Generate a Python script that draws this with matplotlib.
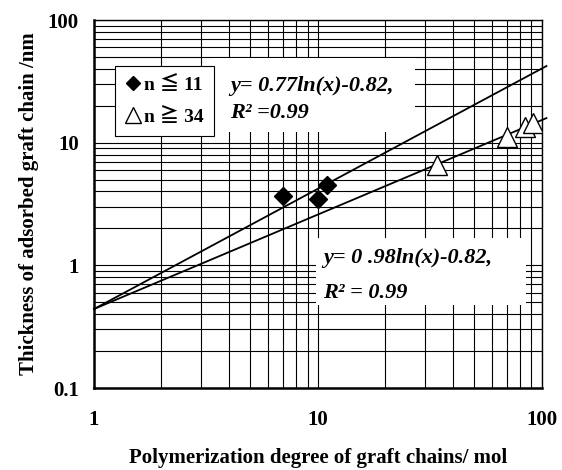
import numpy as np
import matplotlib
matplotlib.use("Agg")
import matplotlib.pyplot as plt
from matplotlib.patches import Rectangle
from matplotlib.ticker import LogLocator, FixedLocator, FixedFormatter, NullFormatter

# ---- data ----
x_small = [7.0, 10.0, 11.0]
y_small = [3.65, 3.45, 4.55]
x_large = [34.0, 70.0, 84.0, 91.0]
y_large = [6.6, 11.2, 13.3, 14.5]
fit_slopes = [0.98, 0.77]
fit_intercept = -0.82
x_ticks = [1, 10, 100]
x_tick_labels = ["1", "10", "100"]
y_ticks = [0.1, 1, 10, 100]
y_tick_labels = ["0.1", "1", "10", "100"]
eq_upper = ["y= 0.77ln(x)-0.82,", "R² =0.99"]
eq_lower = ["y= 0 .98ln(x)-0.82,", "R² = 0.99"]
legend_labels = ["n ≦ 11", "n ≧ 34"]

serif = ["Liberation Serif", "Noto Sans CJK JP", "DejaVu Serif"]
plt.rcParams["font.family"] = serif

fig = plt.figure(figsize=(5.62, 4.70), dpi=100)
ax = fig.add_axes([94/562, 1-388/470, (541.7-94)/562, (388-20)/470])
ax.set_xscale("log")
ax.set_yscale("log")
ax.set_xlim(1, 100)
ax.set_ylim(0.1, 100)

ax.xaxis.set_minor_locator(LogLocator(base=10, subs=np.arange(2, 10)))
ax.yaxis.set_minor_locator(LogLocator(base=10, subs=np.arange(2, 10)))
ax.xaxis.set_major_locator(FixedLocator(x_ticks))
ax.xaxis.set_major_formatter(FixedFormatter(x_tick_labels))
ax.yaxis.set_major_locator(FixedLocator(y_ticks))
ax.yaxis.set_major_formatter(FixedFormatter(y_tick_labels))
ax.xaxis.set_minor_formatter(NullFormatter())
ax.yaxis.set_minor_formatter(NullFormatter())
ax.grid(True, which="both", color="black", linewidth=0.8, zorder=0)
ax.set_axisbelow(True)
ax.tick_params(which="both", length=0)
ax.tick_params(axis="x", pad=16, labelsize=15)
ax.tick_params(axis="y", pad=11, labelsize=15)
for lab in ax.get_xticklabels() + ax.get_yticklabels():
    lab.set_fontweight("bold")

for side in ["top", "right"]:
    ax.spines[side].set_linewidth(1.0)
for side in ["left", "bottom"]:
    ax.spines[side].set_linewidth(1.8)

# fit lines
xf = np.linspace(1, 105, 300)
for k in fit_slopes:
    ax.plot(xf, np.exp(fit_intercept) * xf ** k, color="black", lw=1.3,
            zorder=3, clip_on=False)

# data points
h1, = ax.plot(x_small, y_small, linestyle="none", marker="D", markersize=9.5,
              mfc="black", mec="black", zorder=5)
h2, = ax.plot(x_large, y_large, linestyle="none", marker="^", markersize=14.5,
              mfc="white", mec="black", mew=1.0, zorder=5)

# white boxes behind equations
ax.add_patch(Rectangle((0.266, 0.696), 0.717-0.266, 0.897-0.696,
                       transform=ax.transAxes, facecolor="white",
                       edgecolor="none", zorder=2))
ax.add_patch(Rectangle((0.496, 0.2255), 0.965-0.496, 0.4076-0.2255,
                       transform=ax.transAxes, facecolor="white",
                       edgecolor="none", zorder=2))

tkw = dict(transform=ax.transAxes, fontsize=16, fontweight="bold",
           fontstyle="italic", va="baseline", ha="left", zorder=6)
ax.text(0.304, 0.808, eq_upper[0], **tkw)
ax.text(0.304, 0.734, eq_upper[1], **tkw)
ax.text(0.511, 0.340, eq_lower[0], **tkw)
ax.text(0.511, 0.245, eq_lower[1], **tkw)

leg = ax.legend([h1, h2], legend_labels, loc="upper left",
                bbox_to_anchor=(0.047, 0.875), borderaxespad=0,
                fancybox=False, edgecolor="black", framealpha=1,
                handlelength=0.8, handletextpad=0.2, borderpad=0.5,
                labelspacing=0.75, markerscale=0.75,
                prop=dict(family=serif, weight="bold", size=14))
leg.get_frame().set_linewidth(0.8)
leg.set_zorder(7)

ax.set_xlabel("Polymerization degree of graft chains/ mol", fontsize=15,
              fontweight="bold", labelpad=13)
ax.set_ylabel("Thickness of adsorbed graft chain /nm", fontsize=15,
              fontweight="bold", labelpad=6)

fig.savefig("out.png", dpi=100)
